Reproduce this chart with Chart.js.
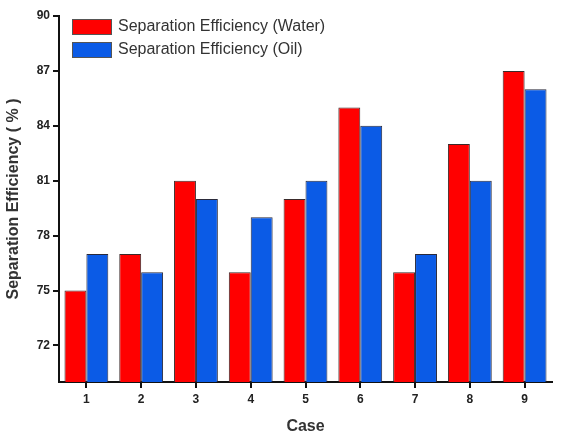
<!DOCTYPE html>
<html>
<head>
<meta charset="utf-8">
<script src="https://cdn.jsdelivr.net/npm/chart.js@4"></script>
<style>
  html, body { margin: 0; padding: 0; background: #fff; }
  #wrap { width: 567px; height: 440px; }
</style>
</head>
<body>
<div id="wrap"><canvas id="sepChart"></canvas></div>
<script>
let cases = ["1", "2", "3", "4", "5", "6", "7", "8", "9"];
let waterEff = [75, 77, 81, 76, 80, 85, 76, 83, 87];
let oilEff = [77, 76, 80, 79, 81, 84, 77, 81, 86];
let yTicks = [72, 75, 78, 81, 84, 87, 90];

// legend drawn inside the plot, top-left
let insideLegend = {
  id: "insideLegend",
  afterDraw(chart) {
    let ctx = chart.ctx;
    let x = chart.chartArea.left + 13;
    let y = 19;
    ctx.save();
    ctx.font = "16px 'Liberation Sans', Arial, sans-serif";
    ctx.textBaseline = "middle";
    chart.data.datasets.forEach((ds, i) => {
      let yy = y + i * 23;
      ctx.fillStyle = ds.backgroundColor;
      ctx.fillRect(x, yy, 40, 16);
      ctx.strokeStyle = "#555";
      ctx.lineWidth = 1;
      ctx.strokeRect(x + 0.5, yy + 0.5, 39, 15);
      ctx.fillStyle = "#333";
      ctx.fillText(ds.label, x + 46, yy + 8);
    });
    ctx.restore();
  },
};

let canvasElement = document.getElementById("sepChart");
let config = {
  type: "bar",
  data: {
    labels: cases,
    datasets: [
      {
        label: "Separation Efficiency (Water)",
        data: waterEff,
        backgroundColor: "#ff0000",
        borderColor: "#3a2a2a",
        borderWidth: 1,
        categoryPercentage: 0.8,
        barPercentage: 1.0,
      },
      {
        label: "Separation Efficiency (Oil)",
        data: oilEff,
        backgroundColor: "#0b5be6",
        borderColor: "#2a2a3a",
        borderWidth: 1,
        categoryPercentage: 0.8,
        barPercentage: 1.0,
      },
    ],
  },
  options: {
    responsive: true,
    maintainAspectRatio: false,
    animation: false,
    layout: { padding: { top: 16, right: 15, left: 0, bottom: 0 } },
    plugins: {
      legend: { display: false },
      tooltip: { enabled: false },
    },
    scales: {
      x: {
        afterFit(scale) { scale.height = 58; },
        grid: { display: true, offset: false, drawOnChartArea: false, drawTicks: true, tickLength: 6, color: "#111", lineWidth: 2 },
        border: { display: true, color: "#111", width: 2 },
        ticks: { color: "#222", font: { family: "'Liberation Sans', Arial", size: 12, weight: "bold" }, padding: 4 },
        title: {
          display: true,
          text: "Case",
          color: "#333",
          font: { family: "'Liberation Sans', Arial", size: 16, weight: "bold" },
          padding: { top: 8 },
        },
      },
      y: {
        min: 70,
        max: 90,
        afterFit(scale) { scale.width = 59; },
        afterBuildTicks(scale) { scale.ticks = yTicks.map(v => ({ value: v })); },
        grid: { display: true, drawOnChartArea: false, drawTicks: true, tickLength: 6, color: "#111", lineWidth: 2 },
        border: { display: true, color: "#111", width: 2 },
        ticks: { color: "#222", font: { family: "'Liberation Sans', Arial", size: 12, weight: "bold" }, padding: 3 },
        title: {
          display: true,
          text: "Separation Efficiency ( % )",
          color: "#333",
          font: { family: "'Liberation Sans', Arial", size: 16, weight: "bold" },
          padding: { bottom: 4 },
        },
      },
    },
  },
  plugins: [insideLegend],
};
let sepChart = new Chart(canvasElement, config);
</script>
</body>
</html>
